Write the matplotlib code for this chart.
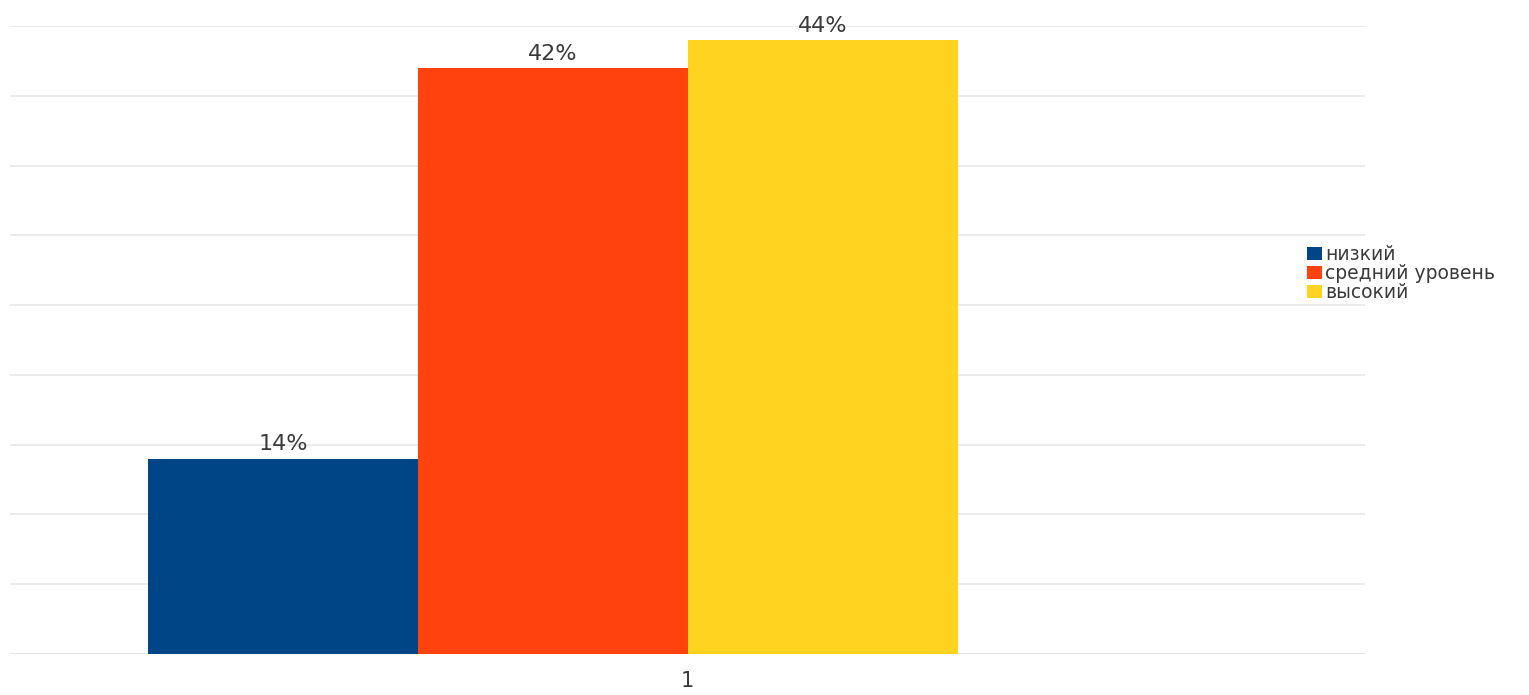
import matplotlib
matplotlib.use("Agg")
import matplotlib.pyplot as plt
from matplotlib.patches import Patch

categories = ["1"]
series_names = ["низкий", "средний уровень", "высокий"]
values = [14, 42, 44]
labels = ["14%", "42%", "44%"]
colors = ["#004586", "#ff420e", "#ffd320"]

W, H = 1529, 695
plt.rcParams['font.family'] = ['DejaVu Sans']
fig = plt.figure(figsize=(W / 100, H / 100), dpi=100)

left, right, top, bottom = 10, 1365, 26, 654
ax = fig.add_axes([left / W, 1 - bottom / H, (right - left) / W, (bottom - top) / H])

bw = 270 / 1355
start = (148 - left) / 1355
for i, (v, c, lab) in enumerate(zip(values, colors, labels)):
    x0 = start + i * bw
    ax.bar(x0, v, width=bw, align="edge", color=c, zorder=3, linewidth=0)
    ax.text(x0 + bw / 2, v + 0.3, lab, ha="center", va="bottom",
            fontsize=16, color="#3a3a3a", zorder=4)

ax.set_xlim(0, 1)
ax.set_ylim(0, 45)
ax.set_yticks(range(0, 46, 5))
ax.yaxis.grid(True, color="#e8e8e8", linewidth=1.2, zorder=0)
ax.set_yticklabels([])
ax.tick_params(axis="y", length=0)
ax.set_xticks([0.5])
ax.set_xticklabels(categories, fontsize=15, color="#3a3a3a")
ax.tick_params(axis="x", length=0, pad=12)
for s in ax.spines.values():
    s.set_visible(False)
ax.axhline(0, color="#dddddd", linewidth=1.2, zorder=1)

handles = [Patch(facecolor=c, edgecolor="none") for c in colors]
fig.legend(handles, series_names, loc="upper left",
           bbox_to_anchor=(1307 / W, 1 - 245 / H), frameon=False,
           fontsize=13.5, handlelength=0.8, handleheight=0.75,
           handletextpad=0.15, labelspacing=0.0, borderpad=0,
           borderaxespad=0, labelcolor="#3a3a3a")

fig.savefig("out.png", dpi=100, facecolor="white")
